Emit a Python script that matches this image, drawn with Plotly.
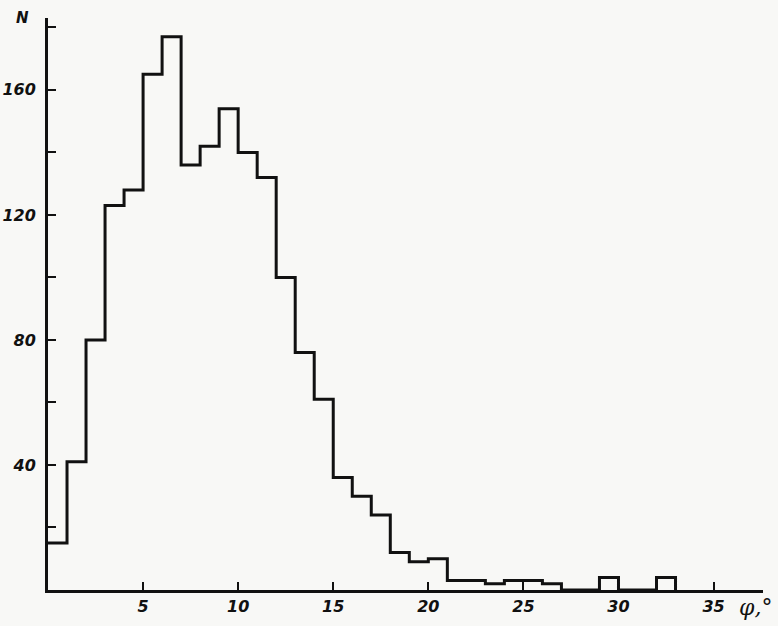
import plotly.graph_objects as go

# Histogram: bin width 1 degree, bins start at 0
bin_edges = list(range(0, 34))
counts = [15, 41, 80, 123, 128, 165, 177, 136, 142, 154, 140, 132, 100, 76, 61,
          36, 30, 24, 12, 9, 10, 3, 3, 2, 3, 3, 2, 0, 0, 4, 0, 0, 4]

y_tick_vals = [0, 20, 40, 60, 80, 100, 120, 140, 160, 180]
y_tick_text = ["", "", "40", "", "80", "", "120", "", "160", ""]
x_tick_vals = [5, 10, 15, 20, 25, 30, 35]
x_tick_text = ["5", "10", "15", "20", "25", "30", "35"]

xs = bin_edges
ys = counts + [0]

tick_font = dict(family="DejaVu Sans", size=16, color="#111", style="italic", weight="bold")

fig = go.Figure()
fig.add_trace(go.Scatter(
    x=xs, y=ys, mode="lines", line=dict(shape="hv", color="#111", width=3),
    hoverinfo="skip", showlegend=False))

fig.update_layout(
    width=778, height=626,
    margin=dict(l=48, r=15, t=18, b=36),
    paper_bgcolor="#f8f8f6", plot_bgcolor="#f8f8f6",
    xaxis=dict(range=[0, 37.6], showgrid=False, zeroline=False, automargin=False,
               showline=True, linecolor="#111", linewidth=3,
               ticks="inside", ticklen=8, tickwidth=2, tickcolor="#111",
               tickvals=x_tick_vals, ticktext=x_tick_text, tickfont=tick_font),
    yaxis=dict(range=[0, 183], showgrid=False, zeroline=False, automargin=False,
               showline=True, linecolor="#111", linewidth=3,
               ticks="inside", ticklen=8, tickwidth=2, tickcolor="#111",
               tickvals=y_tick_vals, ticktext=y_tick_text, tickfont=tick_font,
               ticklabelstandoff=6),
    annotations=[
        dict(text="N", xref="paper", yref="paper", x=-0.036, y=1.0,
             xanchor="center", yanchor="middle", showarrow=False,
             font=dict(family="DejaVu Sans", size=15, color="#111", style="italic", weight="bold")),
        dict(text="φ,°", xref="paper", yref="paper", x=0.963, y=-0.03,
             xanchor="left", yanchor="middle", showarrow=False,
             font=dict(family="DejaVu Serif", size=22, color="#111", style="italic")),
    ],
)

fig.write_html("out.html")
